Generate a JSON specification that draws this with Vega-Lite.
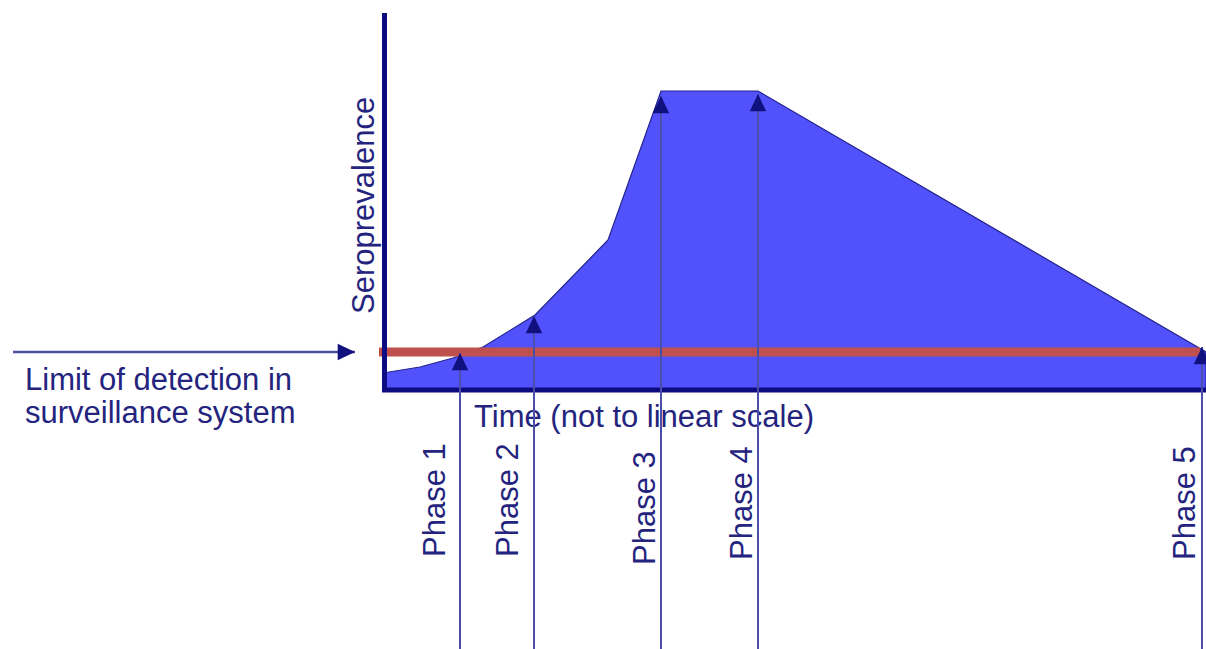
{
  "$schema": "https://vega.github.io/schema/vega-lite/v6.json",
  "width": 1206,
  "height": 649,
  "autosize": {"type": "none"},
  "padding": 0,
  "background": "white",
  "config": {"view": {"stroke": null}},
  "datasets": {
    "curve": [
      {"t": 383, "v": 373},
      {"t": 420, "v": 367},
      {"t": 453, "v": 358},
      {"t": 483, "v": 347},
      {"t": 535, "v": 315},
      {"t": 608, "v": 240},
      {"t": 661, "v": 91},
      {"t": 758, "v": 91},
      {"t": 1206, "v": 352}
    ],
    "detection": [{"x": 379, "x2": 1200, "y": 352}],
    "pointer": [{"x": 13, "x2": 355, "y": 352}],
    "yaxis": [{"x": 384.5, "y": 13, "y2": 392}],
    "xaxis": [{"x": 382, "x2": 1206, "y": 390}],
    "arrows": [
      {"phase": "Phase 1", "x": 460, "tip": 353},
      {"phase": "Phase 2", "x": 534, "tip": 316},
      {"phase": "Phase 3", "x": 661, "tip": 96},
      {"phase": "Phase 4", "x": 758, "tip": 94},
      {"phase": "Phase 5", "x": 1202, "tip": 347}
    ],
    "hlabels": [
      {"text": "Time (not to linear scale)", "x": 474, "y": 427},
      {"text": "Limit of detection in", "x": 25, "y": 390},
      {"text": "surveillance system", "x": 25, "y": 423}
    ],
    "vlabels": [
      {"text": "Seroprevalence", "x": 374, "y": 314},
      {"text": "Phase 1", "x": 445, "y": 557},
      {"text": "Phase 2", "x": 518, "y": 557},
      {"text": "Phase 3", "x": 655, "y": 565},
      {"text": "Phase 4", "x": 752, "y": 560},
      {"text": "Phase 5", "x": 1195, "y": 560}
    ]
  },
  "layer": [
    {
      "data": {"name": "curve"},
      "mark": {"type": "area", "fill": "#5252fc", "stroke": "#23238e", "strokeWidth": 1.2, "interpolate": "linear"},
      "encoding": {
        "x": {"field": "t", "type": "quantitative", "scale": {"domain": [0, 1206], "nice": false, "zero": false}, "axis": null},
        "y": {"field": "v", "type": "quantitative", "scale": {"domain": [0, 649], "reverse": true, "nice": false, "zero": false}, "axis": null},
        "y2": {"datum": 390}
      }
    },
    {
      "data": {"name": "detection"},
      "mark": {"type": "rule", "color": "#c0504d", "strokeWidth": 9},
      "encoding": {
        "x": {"field": "x", "type": "quantitative", "scale": {"domain": [0, 1206], "nice": false, "zero": false}, "axis": null},
        "x2": {"field": "x2"},
        "y": {"field": "y", "type": "quantitative", "scale": {"domain": [0, 649], "reverse": true, "nice": false, "zero": false}, "axis": null}
      }
    },
    {
      "data": {"name": "yaxis"},
      "mark": {"type": "rule", "color": "#0c0c80", "strokeWidth": 5},
      "encoding": {
        "x": {"field": "x", "type": "quantitative", "scale": {"domain": [0, 1206], "nice": false, "zero": false}, "axis": null},
        "y": {"field": "y", "type": "quantitative", "scale": {"domain": [0, 649], "reverse": true, "nice": false, "zero": false}, "axis": null},
        "y2": {"field": "y2"}
      }
    },
    {
      "data": {"name": "xaxis"},
      "mark": {"type": "rule", "color": "#0c0c80", "strokeWidth": 5},
      "encoding": {
        "x": {"field": "x", "type": "quantitative", "scale": {"domain": [0, 1206], "nice": false, "zero": false}, "axis": null},
        "x2": {"field": "x2"},
        "y": {"field": "y", "type": "quantitative", "scale": {"domain": [0, 649], "reverse": true, "nice": false, "zero": false}, "axis": null}
      }
    },
    {
      "data": {"name": "hlabels"},
      "mark": {"type": "text", "font": "Liberation Sans", "fontSize": 31, "fill": "#24247e", "align": "left", "baseline": "alphabetic"},
      "encoding": {
        "x": {"field": "x", "type": "quantitative", "scale": {"domain": [0, 1206], "nice": false, "zero": false}, "axis": null},
        "y": {"field": "y", "type": "quantitative", "scale": {"domain": [0, 649], "reverse": true, "nice": false, "zero": false}, "axis": null},
        "text": {"field": "text"}
      }
    },
    {
      "data": {"name": "vlabels"},
      "mark": {"type": "text", "font": "Liberation Sans", "fontSize": 31, "fill": "#24247e", "align": "left", "baseline": "alphabetic", "angle": 270},
      "encoding": {
        "x": {"field": "x", "type": "quantitative", "scale": {"domain": [0, 1206], "nice": false, "zero": false}, "axis": null},
        "y": {"field": "y", "type": "quantitative", "scale": {"domain": [0, 649], "reverse": true, "nice": false, "zero": false}, "axis": null},
        "text": {"field": "text"}
      }
    },
    {
      "data": {"name": "arrows"},
      "mark": {"type": "rule", "color": "#4d4daa", "strokeWidth": 2},
      "encoding": {
        "x": {"field": "x", "type": "quantitative", "scale": {"domain": [0, 1206], "nice": false, "zero": false}, "axis": null},
        "y": {"field": "tip", "type": "quantitative", "scale": {"domain": [0, 649], "reverse": true, "nice": false, "zero": false}, "axis": null},
        "y2": {"datum": 649}
      }
    },
    {
      "data": {"name": "arrows"},
      "mark": {"type": "point", "shape": "M0,0L-0.95,2L0.95,2Z", "size": 300, "filled": true, "color": "#10107e", "opacity": 1},
      "encoding": {
        "x": {"field": "x", "type": "quantitative", "scale": {"domain": [0, 1206], "nice": false, "zero": false}, "axis": null},
        "y": {"field": "tip", "type": "quantitative", "scale": {"domain": [0, 649], "reverse": true, "nice": false, "zero": false}, "axis": null}
      }
    },
    {
      "data": {"name": "pointer"},
      "mark": {"type": "rule", "color": "#4d4da6", "strokeWidth": 2.5},
      "encoding": {
        "x": {"field": "x", "type": "quantitative", "scale": {"domain": [0, 1206], "nice": false, "zero": false}, "axis": null},
        "x2": {"field": "x2"},
        "y": {"field": "y", "type": "quantitative", "scale": {"domain": [0, 649], "reverse": true, "nice": false, "zero": false}, "axis": null}
      }
    },
    {
      "data": {"name": "pointer"},
      "mark": {"type": "point", "shape": "M0,0L-2,-0.95L-2,0.95Z", "size": 300, "filled": true, "color": "#10107e", "opacity": 1},
      "encoding": {
        "x": {"field": "x2", "type": "quantitative", "scale": {"domain": [0, 1206], "nice": false, "zero": false}, "axis": null},
        "y": {"field": "y", "type": "quantitative", "scale": {"domain": [0, 649], "reverse": true, "nice": false, "zero": false}, "axis": null}
      }
    }
  ]
}
